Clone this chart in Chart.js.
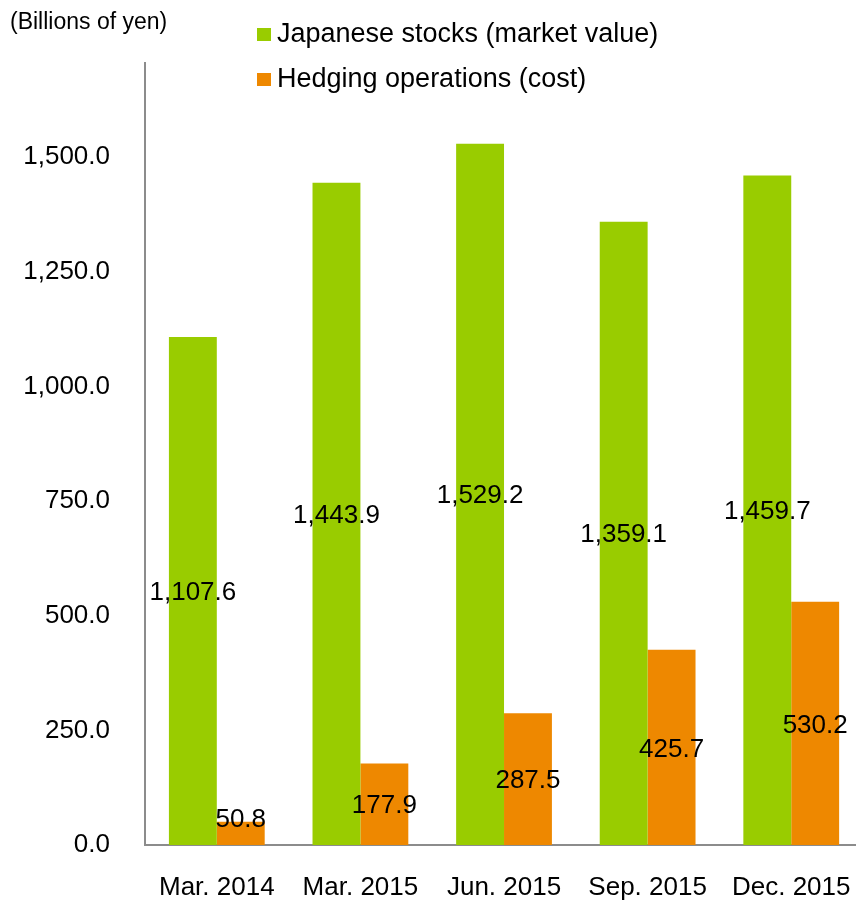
<!DOCTYPE html>
<html>
<head>
<meta charset="utf-8">
<script src="https://cdn.jsdelivr.net/npm/chart.js@4"></script>
<style>
  body { margin: 0; overflow: hidden; background: #fff; }
  #wrap { width: 878px; height: 901px; }
</style>
</head>
<body>
<div id="wrap"><canvas id="myChart" width="878" height="901"></canvas></div>
<script>
// datos
const categories = ['Mar. 2014', 'Mar. 2015', 'Jun. 2015', 'Sep. 2015', 'Dec. 2015'];
const stocks = [1107.6, 1443.9, 1529.2, 1359.1, 1459.7];
const hedging = [50.8, 177.9, 287.5, 425.7, 530.2];
const seriesNames = ['Japanese stocks (market value)', 'Hedging operations (cost)'];
const yTicks = [0, 250, 500, 750, 1000, 1250, 1500];
const yUnit = '(Billions of yen)';

const FONT = "'Liberation Sans', Arial, sans-serif";
const fmt = (v) => v.toLocaleString('en-US', { minimumFractionDigits: 1, maximumFractionDigits: 1 });

// etiquetas de valor dentro de las barras
const valueLabels = {
  id: 'valueLabels',
  afterDatasetsDraw(chart) {
    const ctx = chart.ctx;
    ctx.save();
    ctx.font = '26px ' + FONT;
    ctx.fillStyle = '#000';
    ctx.textAlign = 'center';
    ctx.textBaseline = 'middle';
    chart.data.datasets.forEach((ds, i) => {
      chart.getDatasetMeta(i).data.forEach((bar, j) => {
        const y = Math.min((bar.y + bar.base) / 2, bar.base - 27);
        ctx.fillText(fmt(ds.data[j]), bar.x, y + 2);
      });
    });
    ctx.restore();
  }
};

// leyenda vertical y titulo del eje
const extras = {
  id: 'extras',
  afterDraw(chart) {
    const ctx = chart.ctx;
    ctx.save();
    ctx.font = '23px ' + FONT;
    ctx.fillStyle = '#000';
    ctx.textBaseline = 'middle';
    ctx.textAlign = 'left';
    ctx.fillText(yUnit, 10, 23);

    ctx.font = '27px ' + FONT;
    chart.data.datasets.forEach((ds, i) => {
      const y = 34 + i * 45;
      ctx.fillStyle = ds.backgroundColor;
      ctx.fillRect(257, y - 6, 14, 13);
      ctx.fillStyle = '#000';
      ctx.fillText(ds.label, 277, y + 1);
    });
    ctx.restore();
  }
};

const ctx = document.getElementById('myChart').getContext('2d');
new Chart(ctx, {
  type: 'bar',
  data: {
    labels: categories,
    datasets: [
      { label: seriesNames[0], data: stocks, backgroundColor: '#99cc00' },
      { label: seriesNames[1], data: hedging, backgroundColor: '#ee8800' }
    ]
  },
  options: {
    responsive: false,
    animation: false,
    layout: { padding: { top: 63, right: 5, left: 0, bottom: 0 } },
    datasets: { bar: { categoryPercentage: 0.667, barPercentage: 1.0 } },
    plugins: { legend: { display: false }, tooltip: { enabled: false } },
    scales: {
      x: {
        grid: { display: false, drawTicks: false },
        border: { display: true, color: '#8c8c8c', width: 2 },
        ticks: { color: '#000', font: { family: FONT, size: 26 }, padding: 27, maxRotation: 0 },
        afterFit(scale) { scale.height = 56; }
      },
      y: {
        min: 0,
        max: 1705,
        grid: { display: false, drawTicks: false },
        border: { display: true, color: '#8c8c8c', width: 2 },
        ticks: {
          stepSize: 250,
          color: '#000',
          padding: 35,
          font: { family: FONT, size: 26 },
          callback: (v) => fmt(v)
        },
        afterBuildTicks(scale) {
          scale.ticks = yTicks.map((v) => ({ value: v }));
        },
        afterFit(scale) { scale.width = 145; }
      }
    }
  },
  plugins: [valueLabels, extras]
});
</script>
</body>
</html>
